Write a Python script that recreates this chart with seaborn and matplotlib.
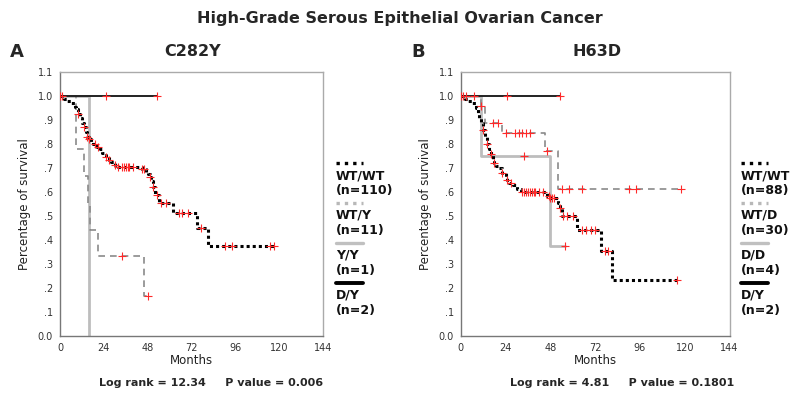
import numpy as np
import pandas as pd
import matplotlib
matplotlib.use("Agg")
import matplotlib.pyplot as plt
from matplotlib.lines import Line2D
import seaborn as sns

# ---- data (Kaplan-Meier steps) ----
# Panel A: C282Y
a_wtwt_t = [0, 2, 4, 6, 8, 9, 10, 11, 12, 13, 14, 15, 16, 17, 18, 20, 22, 23, 24, 25,
            27, 28, 30, 32, 45, 47, 48, 49, 50, 51, 52, 54, 62, 75, 81]
a_wtwt_s = [1.0, 0.99, 0.98, 0.97, 0.955, 0.945, 0.925, 0.91, 0.89, 0.87, 0.85, 0.83,
            0.82, 0.81, 0.80, 0.79, 0.78, 0.765, 0.755, 0.745, 0.735, 0.725, 0.715,
            0.705, 0.695, 0.685, 0.675, 0.665, 0.645, 0.62, 0.59, 0.555, 0.515, 0.45, 0.375]
a_wtwt_end = 117
a_wtwt_cens = [0, 1, 10, 13, 15, 16, 19, 21, 25, 27, 30, 32, 34, 35, 36, 37, 38, 40, 45,
               46, 49, 51, 53, 55, 58, 65, 67, 70, 77, 90, 94, 115, 117]

a_wty_t = [0, 9, 13, 15.5, 16.5, 21, 46]
a_wty_s = [1.0, 0.778, 0.667, 0.556, 0.444, 0.333, 0.167]
a_wty_end = 48
a_wty_cens = [34, 48]

a_yy_t = [0, 16]
a_yy_s = [1.0, 0.0]
a_yy_end = 16

a_dy_t = [0]
a_dy_s = [1.0]
a_dy_end = 53
a_dy_cens = [25, 53]

# Panel B: H63D
b_wtwt_t = [0, 2, 4, 6, 8, 9, 10, 11, 12, 13, 14, 15, 16, 17, 18, 19, 20, 22, 24, 25,
            26, 28, 30, 32, 46, 48, 52, 53, 54, 62, 75, 81]
b_wtwt_s = [1.0, 0.99, 0.98, 0.97, 0.95, 0.93, 0.91, 0.89, 0.86, 0.83, 0.80, 0.78, 0.76,
            0.74, 0.72, 0.71, 0.70, 0.68, 0.665, 0.65, 0.64, 0.63, 0.615, 0.60, 0.585,
            0.575, 0.555, 0.535, 0.50, 0.44, 0.355, 0.235]
b_wtwt_end = 116
b_wtwt_cens = [0, 1, 12, 14, 16, 18, 22, 25, 27, 33, 34, 35, 36, 37, 38, 39, 40, 42, 44,
               47, 48, 49, 50, 53, 55, 57, 60, 65, 67, 70, 72, 77, 79, 116]

b_wtd_t = [0, 11, 13, 22, 45, 52]
b_wtd_s = [1.0, 0.96, 0.89, 0.845, 0.77, 0.615]
b_wtd_end = 118
b_wtd_cens = [3, 7, 11, 17, 20, 24, 29, 31, 33, 35, 37, 46, 54, 58, 65, 90, 94, 118]

b_dd_t = [0, 11, 48]
b_dd_s = [1.0, 0.75, 0.375]
b_dd_end = 56
b_dd_cens = [34, 56]

b_dy_t = [0]
b_dy_s = [1.0]
b_dy_end = 53
b_dy_cens = [25, 53]

a_labels = ["WT/WT\n(n=110)", "WT/Y\n(n=11)", "Y/Y\n(n=1)", "D/Y\n(n=2)"]
b_labels = ["WT/WT\n(n=88)", "WT/D\n(n=30)", "D/D\n(n=4)", "D/Y\n(n=2)"]
a_stats = "Log rank = 12.34     P value = 0.006"
b_stats = "Log rank = 4.81     P value = 0.1801"

# ---- styles ----
st_wtwt = dict(color="black", lw=2.2, ls=(0, (1, 1)))
st_het = dict(color="#8a8a8a", lw=1.2, ls=(0, (4, 3)))
st_hom = dict(color="#bdbdbd", lw=2.0, ls="-")
st_dy = dict(color="#222222", lw=1.4, ls="-")
leg_styles = [dict(color="black", lw=2.4, ls=(0, (1, 1.5))),
              dict(color="#b8b8b8", lw=2.4, ls=(0, (1, 1.5))),
              dict(color="#c0c0c0", lw=2.4, ls="-"),
              dict(color="black", lw=2.8, ls="-")]

sns.set_style("white")
plt.rcParams["font.family"] = ["DejaVu Sans"]


def km_frame(t, s, end):
    return pd.DataFrame({"t": list(t) + [end], "s": list(s) + [s[-1]]})


def surv_at(t, s, x):
    idx = np.searchsorted(np.array(t), x, side="right") - 1
    return [s[i] for i in idx]


def draw_curve(ax, t, s, end, style, cens=None):
    df = km_frame(t, s, end)
    sns.lineplot(data=df, x="t", y="s", ax=ax, estimator=None, sort=False,
                 drawstyle="steps-post", color=style["color"], lw=style["lw"],
                 ls=style["ls"])
    if cens:
        cdf = pd.DataFrame({"t": cens, "s": surv_at(t, s, cens)})
        sns.scatterplot(data=cdf, x="t", y="s", ax=ax, marker="+", color="#ff2a2a",
                        s=40, linewidth=0.8, zorder=5)


def style_axes(ax):
    ax.set_xlim(0, 144)
    ax.set_ylim(0, 1.1)
    ax.set_xticks(range(0, 145, 24))
    ax.set_xticks(range(0, 145, 12), minor=True)
    yt = np.round(np.arange(0, 1.11, 0.1), 1)
    ax.set_yticks(yt)
    ax.set_yticklabels(["0.0", ".1", ".2", ".3", ".4", ".5", ".6", ".7", ".8", ".9",
                        "1.0", "1.1"])
    ax.tick_params(axis="both", which="major", direction="out", length=3, width=0.8,
                   color="#777777", labelsize=7, labelcolor="#333333", pad=2)
    ax.tick_params(axis="x", which="minor", direction="out", length=2, width=0.6,
                   color="#777777")
    for sp in ax.spines.values():
        sp.set_color("#aaaaaa")
        sp.set_linewidth(1.0)
    ax.spines["left"].set_color("#777777")
    ax.spines["bottom"].set_color("#777777")
    ax.set_xlabel("Months", fontsize=8.5, color="#222222", labelpad=1)
    ax.set_ylabel("Percentage of survival", fontsize=8.5, color="#222222", labelpad=5)


fig = plt.figure(figsize=(8.0, 4.01), dpi=100)
axA = fig.add_axes([0.075, 0.162, 0.329, 0.658])
axB = fig.add_axes([0.576, 0.162, 0.336, 0.658])

# panel A
draw_curve(axA, a_yy_t, a_yy_s, a_yy_end, st_hom)
draw_curve(axA, a_wty_t, a_wty_s, a_wty_end, st_het, a_wty_cens)
draw_curve(axA, a_dy_t, a_dy_s, a_dy_end, st_dy, a_dy_cens)
draw_curve(axA, a_wtwt_t, a_wtwt_s, a_wtwt_end, st_wtwt, a_wtwt_cens)
style_axes(axA)

# panel B
draw_curve(axB, b_dd_t, b_dd_s, b_dd_end, st_hom, b_dd_cens)
draw_curve(axB, b_wtd_t, b_wtd_s, b_wtd_end, st_het, b_wtd_cens)
draw_curve(axB, b_dy_t, b_dy_s, b_dy_end, st_dy, b_dy_cens)
draw_curve(axB, b_wtwt_t, b_wtwt_s, b_wtwt_end, st_wtwt, b_wtwt_cens)
style_axes(axB)

# legends drawn as line + label stacks at the right of each panel
line_y = [163, 203, 243, 283]
for x0, labels in [(336, a_labels), (741, b_labels)]:
    for y, lab, ls in zip(line_y, labels, leg_styles):
        yf = 1 - y / 401
        fig.add_artist(Line2D([x0 / 800, (x0 + 27) / 800], [yf, yf], **ls))
        fig.text(x0 / 800, 1 - (y + 6) / 401, lab, fontsize=9, fontweight="bold",
                 va="top", ha="left", color="#111111", linespacing=1.2)

fig.text(0.5, 1 - 18 / 401, "High-Grade Serous Epithelial Ovarian Cancer",
         fontsize=11.5, fontweight="bold", ha="center", va="center")
fig.text(17 / 800, 1 - 52 / 401, "A", fontsize=13, fontweight="bold", ha="center",
         va="center")
fig.text(418 / 800, 1 - 52 / 401, "B", fontsize=13, fontweight="bold", ha="center",
         va="center")
fig.text(193 / 800, 1 - 52 / 401, "C282Y", fontsize=11.5, fontweight="bold",
         ha="center", va="center")
fig.text(597 / 800, 1 - 52 / 401, "H63D", fontsize=11.5, fontweight="bold",
         ha="center", va="center")
fig.text(211 / 800, 1 - 383 / 401, a_stats, fontsize=8, fontweight="bold",
         ha="center", va="center")
fig.text(622 / 800, 1 - 383 / 401, b_stats, fontsize=8, fontweight="bold",
         ha="center", va="center")

fig.savefig("out.png", dpi=100)
